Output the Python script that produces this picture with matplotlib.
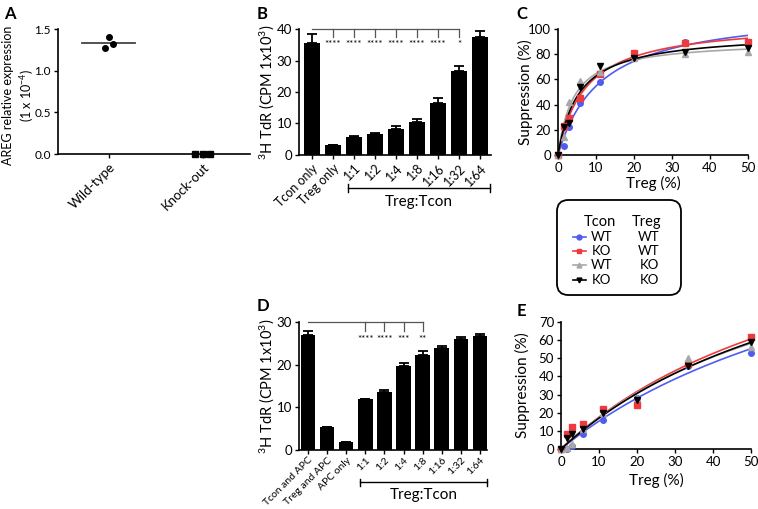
import numpy as np
import matplotlib
matplotlib.use('Agg')
import matplotlib.pyplot as plt
from matplotlib.patches import FancyBboxPatch
from matplotlib.lines import Line2D

plt.rcParams['font.family'] = ['Lato', 'DejaVu Sans']
plt.rcParams['font.size'] = 9.5
plt.rcParams['axes.linewidth'] = 1.2
plt.rcParams['xtick.major.width'] = 1.0
plt.rcParams['ytick.major.width'] = 1.0
plt.rcParams['xtick.major.size'] = 3
plt.rcParams['ytick.major.size'] = 3
plt.rcParams['xtick.major.pad'] = 2
plt.rcParams['ytick.major.pad'] = 2
plt.rcParams['mathtext.default'] = 'regular'

# panel A
a_groups = ['Wild-type', 'Knock-out']
a_wt = [1.27, 1.40, 1.32]
a_ko = [0.0, 0.0, 0.0]
a_wt_median = 1.33

# panel B
b_labels = ['Tcon only', 'Treg only', '1:1', '1:2', '1:4', '1:8', '1:16', '1:32', '1:64']
b_mean = [35.7, 3.2, 5.8, 6.6, 8.4, 10.6, 16.6, 26.8, 37.5]
b_err = [2.8, 0.0, 0.2, 0.4, 0.7, 0.8, 1.4, 1.6, 1.8]
b_stars = ['****', '****', '****', '****', '****', '****', '*']

# panel D
d_labels = ['Tcon and APC', 'Treg and APC', 'APC only', '1:1', '1:2', '1:4', '1:8', '1:16', '1:32', '1:64']
d_mean = [26.9, 5.3, 1.9, 11.9, 13.5, 19.7, 22.3, 23.9, 26.0, 26.8]
d_err = [1.0, 0.0, 0.0, 0.1, 0.5, 0.6, 0.9, 0.5, 0.5, 0.5]
d_stars = ['****', '****', '***', '**']

# panels C and E, Treg percentage
treg_pct = [0, 1.5, 3.0, 5.9, 11.1, 20.0, 33.3, 50.0]
c_wt_wt = [0, 7, 22, 41, 58, 79, 89.5, 90]
c_ko_wt = [0, 23, 29, 45, 64, 81, 89, 90]
c_wt_ko = [0, 14, 42, 59, 66, 77, 80, 82]
c_ko_ko = [0, 22, 25, 54, 71, 77, 82, 85]
e_wt_wt = [0, 0, 1.5, 8, 16, 28, 46, 53]
e_ko_wt = [0, 8, 12, 14, 22, 24, 47, 62]
e_wt_ko = [0, 0.5, 3, 11, 20, 28, 50, 56]
e_ko_ko = [0, 6, 8, 11, 20, 27, 46, 59]

legend_rows = [('WT', 'WT'), ('KO', 'WT'), ('WT', 'KO'), ('KO', 'KO')]
colors = ['#4f5cf0', '#ee3a3f', '#a8a8a8', 'black']
markers = ['o', 's', '^', 'v']


def style(ax):
    ax.spines['top'].set_visible(False)
    ax.spines['right'].set_visible(False)


def hyperbola_fit(x, y):
    x = np.asarray(x, float)
    y = np.asarray(y, float)
    best = None
    for k in np.linspace(0.5, 300, 3000):
        g = x / (k + x)
        vmax = (g @ y) / (g @ g)
        sse = np.sum((y - vmax * g) ** 2)
        if best is None or sse < best[0]:
            best = (sse, vmax, k)
    return best[1], best[2]


fig = plt.figure(figsize=(7.58, 5.09), dpi=100)

# ---- A
axA = fig.add_axes([0.0765, 0.6974, 0.2533, 0.2456])
style(axA)
axA.plot([-0.28, 0.28], [a_wt_median] * 2, color='#444444', lw=1.3)
axA.plot([-0.04, 0.0, 0.04], a_wt, 'o', color='black', ms=4, clip_on=False)
axA.plot([0.92, 1.0, 1.08], a_ko, 's', color='black', ms=4, clip_on=False)
axA.set_xlim(-0.54, 1.5)
axA.set_ylim(0, 1.5)
axA.set_yticks([0, 0.5, 1.0, 1.5])
axA.set_yticklabels(['0.0', '0.5', '1.0', '1.5'], fontsize=8.5)
axA.set_xticks([0, 1])
axA.set_xticklabels(a_groups, rotation=45, ha='right', rotation_mode='anchor', fontsize=9.5)
axA.set_ylabel('AREG relative expression\n(1 x 10$^{-4}$)', fontsize=9, linespacing=1.3)
axA.yaxis.set_label_coords(-0.115, 0.47)
fig.text(0.006, 0.988, 'A', fontsize=12, fontweight='bold', va='top')


def bar_panel(ax, labels, mean, err, xlim, lab_size):
    x = np.arange(len(labels))
    ax.bar(x, mean, width=0.76, color='black')
    ax.errorbar(x, mean, yerr=[np.zeros(len(err)), err], fmt='none', ecolor='black',
                elinewidth=1.3, capsize=3.5, capthick=1.3)
    ax.set_xlim(*xlim)
    ax.set_xticks(x)
    ax.set_xticklabels(labels, rotation=45, ha='right', rotation_mode='anchor', fontsize=lab_size)
    style(ax)
    return x


def bracket(ax, x0, x1, y, text, ty):
    ax.plot([x0, x1], [y, y], color='black', lw=1.0, clip_on=False)
    h = abs(y) * 0.12
    ax.plot([x0, x0], [y - h, y + h], color='black', lw=1.0, clip_on=False)
    ax.plot([x1, x1], [y - h, y + h], color='black', lw=1.0, clip_on=False)
    ax.text((x0 + x1) / 2, ty, text, ha='center', va='center', fontsize=11)


# ---- B
axB = fig.add_axes([0.3945, 0.6955, 0.2533, 0.2475])
bar_panel(axB, b_labels, b_mean, b_err, (-0.62, 8.52), 9)
axB.set_ylim(0, 40)
axB.set_yticks([0, 10, 20, 30, 40])
axB.set_ylabel('$^3$H TdR (CPM 1x10$^3$)', fontsize=10.5)
axB.yaxis.set_label_coords(-0.12, 0.5)
axB.plot([0, 7], [40, 40], color='#555555', lw=0.9, clip_on=False)
for i, s in enumerate(b_stars):
    axB.plot([i + 1, i + 1], [40, 37.6], color='#555555', lw=0.9, clip_on=False)
    axB.text(i + 1, 35.0, s, ha='center', va='center', fontsize=7)
bracket(axB, 1.7, 8.45, -10.5, 'Treg:Tcon', -15.0)
fig.text(0.338, 0.988, 'B', fontsize=12, fontweight='bold', va='top')

# ---- D
axD = fig.add_axes([0.3945, 0.1159, 0.248, 0.2515])
bar_panel(axD, d_labels, d_mean, d_err, (-0.47, 9.37), 7.5)
axD.tick_params(axis='x', pad=1)
axD.set_ylim(0, 30)
axD.set_yticks([0, 10, 20, 30])
axD.set_ylabel('$^3$H TdR (CPM 1x10$^3$)', fontsize=10.5)
axD.yaxis.set_label_coords(-0.12, 0.5)
axD.plot([0, 6], [30, 30], color='#555555', lw=0.9, clip_on=False)
for i, s in enumerate(d_stars):
    axD.plot([i + 3, i + 3], [30, 27.9], color='#555555', lw=0.9, clip_on=False)
    axD.text(i + 3, 25.8, s, ha='center', va='center', fontsize=7)
bracket(axD, 2.7, 9.37, -7.6, 'Treg:Tcon', -10.5)
fig.text(0.338, 0.415, 'D', fontsize=12, fontweight='bold', va='top')


def curve_panel(ax, series, ymax, yticks, ylab_x, xlab_y):
    xs = np.linspace(0, 50, 200)
    for ys, c, m in zip(series, colors, markers):
        vmax, k = hyperbola_fit(treg_pct, ys)
        ax.plot(xs, vmax * xs / (k + xs), color=c, lw=1.2, zorder=2)
        ax.plot(treg_pct, ys, m, color=c, ms=4, clip_on=False, zorder=3)
    ax.set_xlim(0, 50)
    ax.set_ylim(0, ymax)
    ax.set_xticks([0, 10, 20, 30, 40, 50])
    ax.set_yticks(yticks)
    ax.set_xlabel('Treg (%)', fontsize=11)
    ax.set_ylabel('Suppression (%)', fontsize=11)
    ax.yaxis.set_label_coords(ylab_x, 0.5)
    ax.xaxis.set_label_coords(0.5, xlab_y)
    style(ax)


# ---- C
axC = fig.add_axes([0.7361, 0.6955, 0.2507, 0.2475])
curve_panel(axC, [c_wt_wt, c_ko_wt, c_wt_ko, c_ko_ko], 100, [0, 20, 40, 60, 80, 100], -0.13, -0.165)
fig.text(0.681, 0.988, 'C', fontsize=12, fontweight='bold', va='top')

# ---- E
axE = fig.add_axes([0.7401, 0.1179, 0.2507, 0.2495])
curve_panel(axE, [e_wt_wt, e_ko_wt, e_wt_ko, e_ko_ko], 70, [0, 10, 20, 30, 40, 50, 60, 70], -0.165, -0.185)
fig.text(0.681, 0.405, 'E', fontsize=12, fontweight='bold', va='top')

# ---- legend box
box = FancyBboxPatch((0.7348, 0.4204), 0.1636, 0.1867, boxstyle='round,pad=0,rounding_size=0.015',
                     transform=fig.transFigure, fill=False, lw=1.3, ec='black',
                     mutation_aspect=758 / 509)
fig.patches.append(box)
fig.text(0.7916, 0.5639, 'Tcon', ha='center', va='center', fontsize=10.5)
fig.text(0.8536, 0.5639, 'Treg', ha='center', va='center', fontsize=10.5)
row_y = [0.5344, 0.5069, 0.4794, 0.4499]
for (tc, tr), c, m, y in zip(legend_rows, colors, markers, row_y):
    fig.lines.append(Line2D([0.756, 0.773], [y, y], transform=fig.transFigure, color=c, lw=1.2))
    fig.lines.append(Line2D([0.7645], [y], transform=fig.transFigure, color=c, marker=m, ms=3.5, lw=0))
    fig.text(0.7941, y, tc, ha='center', va='center', fontsize=9.5)
    fig.text(0.8562, y, tr, ha='center', va='center', fontsize=9.5)

fig.savefig('out.png', dpi=100)
